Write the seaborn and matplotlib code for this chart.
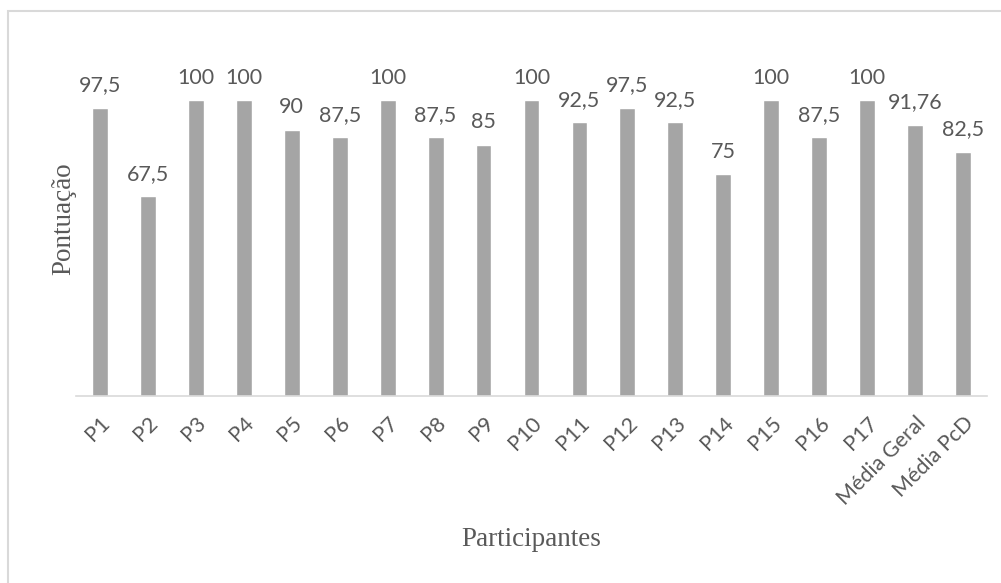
import matplotlib
matplotlib.use('Agg')
import matplotlib.pyplot as plt
from matplotlib.patches import Rectangle
import seaborn as sns
import pandas as pd

participantes = ["P1", "P2", "P3", "P4", "P5", "P6", "P7", "P8", "P9", "P10",
                 "P11", "P12", "P13", "P14", "P15", "P16", "P17",
                 "Média Geral", "Média PcD"]
pontuacao = [97.5, 67.5, 100, 100, 90, 87.5, 100, 87.5, 85, 100,
             92.5, 97.5, 92.5, 75, 100, 87.5, 100, 91.76, 82.5]

BAR = '#a5a5a5'
TXT = '#595959'
LINE = '#d9d9d9'
SANS = 'Lato'
SERIF = 'Liberation Serif'

sns.set_style('white')
df = pd.DataFrame({'Participantes': participantes, 'Pontuação': pontuacao})

fig = plt.figure(figsize=(10.01, 5.83), dpi=100)
ax = fig.add_axes([76 / 1001, 1 - 396 / 583, 911 / 1001, 355 / 583])

sns.barplot(data=df, x='Participantes', y='Pontuação', color=BAR,
            saturation=1, width=0.33, ax=ax)

ax.set_ylim(0, 120)
ax.set_xlim(-0.5, len(participantes) - 0.5)

# rótulos de dados com vírgula decimal
labels = [f"{v:g}".replace('.', ',') for v in pontuacao]
ax.bar_label(ax.containers[0], labels=labels, padding=9,
             fontsize=15.5, color=TXT, family=SANS)

for s in ['top', 'right', 'left']:
    ax.spines[s].set_visible(False)
ax.spines['bottom'].set_color(LINE)
ax.spines['bottom'].set_linewidth(1.2)

ax.set_yticks([])
ax.set_xticks(range(len(participantes)))
ax.set_xticklabels(participantes, rotation=45, ha='right',
                   rotation_mode='anchor', fontsize=15.5, color=TXT, family=SANS)
ax.tick_params(axis='x', which='major', length=0, pad=12)
ax.set_xticks([i - 0.5 for i in range(len(participantes) + 1)], minor=True)
ax.tick_params(axis='x', which='minor', length=8, color=LINE, width=1.2)

ax.set_xlabel('Participantes', fontsize=19.5, color=TXT, family=SERIF)
ax.xaxis.set_label_coords(0.5, -0.37)
ax.set_ylabel('Pontuação', fontsize=19.5, color=TXT, family=SERIF)
ax.yaxis.set_label_coords(0.0, 0.5)

# moldura do gráfico
fig.patches.append(Rectangle((8 / 1001, -0.05), 1.1, 1 - 11 / 583 + 0.05,
                             transform=fig.transFigure, fill=False,
                             edgecolor=LINE, linewidth=1.5))

fig.savefig('out.png', dpi=100)
